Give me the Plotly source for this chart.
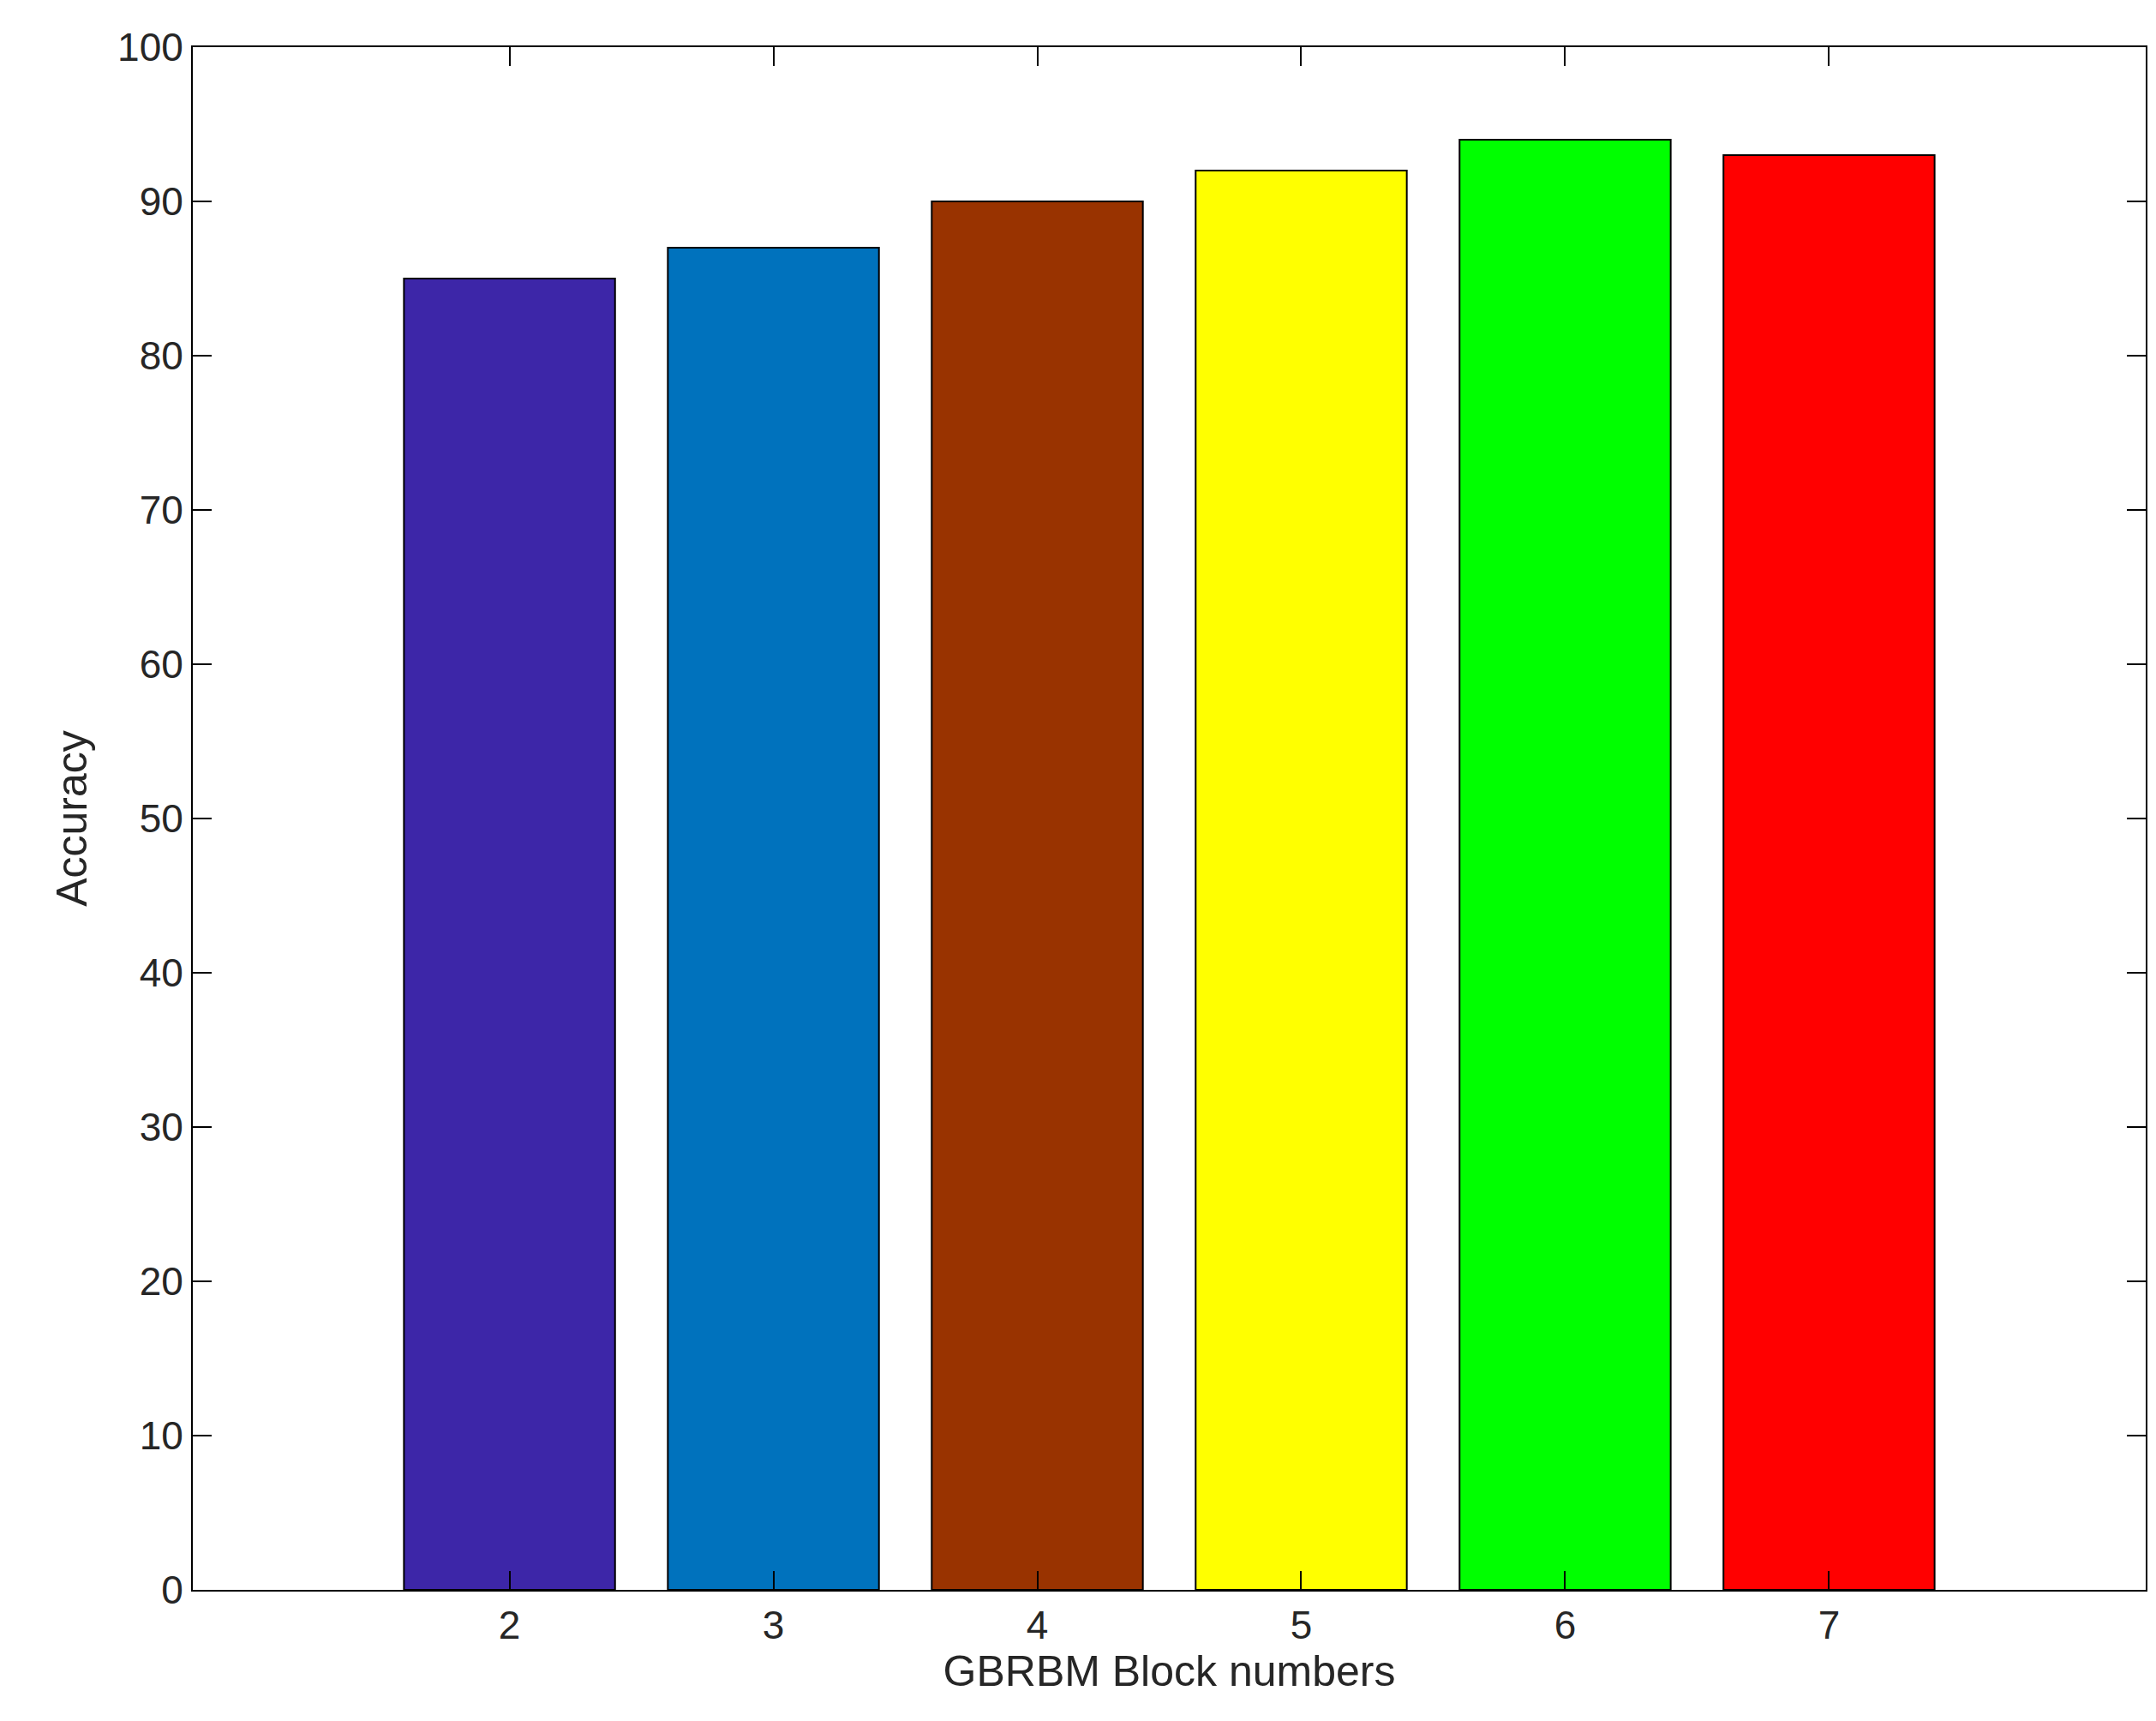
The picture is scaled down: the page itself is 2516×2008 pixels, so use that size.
import plotly.graph_objects as go

blocks = [2, 3, 4, 5, 6, 7]
accuracy = [85, 87, 90, 92, 94, 93]
colors = ["#3D26A8", "#0072BD", "#993300", "#FFFF00", "#00FF00", "#FF0000"]

fig = go.Figure(go.Bar(x=blocks, y=accuracy, width=0.8, marker=dict(color=colors, line=dict(color="black", width=2))))
ax = dict(showgrid=False, zeroline=False, showline=True, linecolor="black", linewidth=2, mirror="ticks",
          ticks="inside", ticklen=22, tickwidth=2, tickcolor="black",
          tickfont=dict(family="Liberation Sans", size=46, color="#262626"))
fig.update_xaxes(**ax, range=[0.8, 8.2], tickvals=blocks,
                 title=dict(text="GBRBM Block numbers", font=dict(family="Liberation Sans", size=50, color="#262626"), standoff=10))
fig.update_yaxes(**ax, range=[0, 100], dtick=10,
                 title=dict(text="Accuracy", font=dict(family="Liberation Sans", size=50, color="#262626"), standoff=20))
fig.update_layout(width=2516, height=2008, plot_bgcolor="white", paper_bgcolor="white",
                  margin=dict(l=217, r=20, t=47, b=161), showlegend=False)
fig.write_html("out.html")
